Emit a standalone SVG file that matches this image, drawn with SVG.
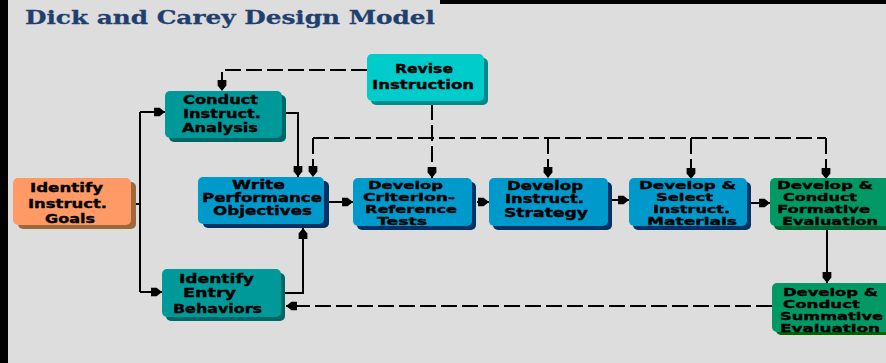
<svg xmlns="http://www.w3.org/2000/svg" width="886" height="363" viewBox="0 0 886 363">
<defs>
<style>
.t{font-family:"DejaVu Sans","Verdana",sans-serif;font-weight:bold;font-size:12px;fill:#000;stroke:#000;stroke-width:0.35}
.t3{font-size:11.5px}
.t4{font-size:10.5px}
.title{font-family:"DejaVu Serif","Liberation Serif",serif;font-weight:bold;font-size:19px;fill:#1f3f6f;stroke:#1f3f6f;stroke-width:0.3}
.c{fill:none;stroke:#000;stroke-width:2}
.d{fill:none;stroke:#000;stroke-width:2;stroke-dasharray:16 5}
.teal{fill:#009999}.tealS{fill:#006666}
.cyan{fill:#00cccc}.cyanS{fill:#008b8b}
.org{fill:#ff9966}.orgS{fill:#9c6a3a}
.blue{fill:#0099cc}.blueS{fill:#003366}
.grn{fill:#009966}.grnS{fill:#006633}
</style>
<marker id="ah" markerUnits="userSpaceOnUse" markerWidth="12" markerHeight="12" viewBox="0 -5 11 10" refX="10" refY="0" orient="auto">
<path d="M0,-4 L5,-4 L10,0 L5,4 L0,4 Z" fill="#000"/>
</marker>
</defs>
<rect x="0" y="0" width="886" height="363" fill="#dddddd"/>
<rect x="0" y="0" width="8" height="363" fill="#000"/>
<rect x="440" y="0" width="446" height="4" fill="#000"/>
<text class="title" x="25" y="24" textLength="410" lengthAdjust="spacingAndGlyphs">Dick and Carey Design Model</text>

<g id="connectors">
<path class="c" d="M135,204 H140"/>
<path class="c" d="M140,112 V292"/>
<path class="c" d="M140,112 H165" marker-end="url(#ah)"/>
<path class="c" d="M140,292 H162" marker-end="url(#ah)"/>
<path class="c" d="M285,113 H298 V177" marker-end="url(#ah)"/>
<path class="c" d="M285,293 H303 V228" marker-end="url(#ah)"/>
<path class="d" d="M367,70 H222 V91" marker-end="url(#ah)"/>
<path class="d" d="M432,104 V178" marker-end="url(#ah)"/>
<path class="d" d="M313,138 H826"/>
<path class="d" d="M313,138 V177" marker-end="url(#ah)"/>
<path class="d" d="M548,138 V178" marker-end="url(#ah)"/>
<path class="d" d="M691,138 V179" marker-end="url(#ah)"/>
<path class="d" d="M826,138 V179" marker-end="url(#ah)"/>
<path class="c" d="M329,202 H353" marker-end="url(#ah)"/>
<path class="c" d="M477,202 H489" marker-end="url(#ah)"/>
<path class="c" d="M612,200 H629" marker-end="url(#ah)"/>
<path class="c" d="M751,203 H770" marker-end="url(#ah)"/>
<path class="c" d="M827,230 V283" marker-end="url(#ah)"/>
<path class="d" d="M772,306 H286" marker-end="url(#ah)"/>
</g>

<g id="revise">
<rect class="cyanS" x="371" y="58" width="117" height="47" rx="5"/>
<rect class="cyan" x="367" y="54" width="117" height="47" rx="5"/>
<text class="t" x="395" y="73" textLength="58" lengthAdjust="spacingAndGlyphs">Revise</text>
<text class="t" x="372" y="89" textLength="102" lengthAdjust="spacingAndGlyphs">Instruction</text>
</g>

<g id="conduct">
<rect class="tealS" x="169" y="95" width="117" height="47" rx="5"/>
<rect class="teal" x="165" y="91" width="117" height="47" rx="5"/>
<text class="t" x="183" y="104" textLength="75" lengthAdjust="spacingAndGlyphs">Conduct</text>
<text class="t" x="183" y="118" textLength="78" lengthAdjust="spacingAndGlyphs">Instruct.</text>
<text class="t" x="182" y="132" textLength="76" lengthAdjust="spacingAndGlyphs">Analysis</text>
</g>

<g id="goals">
<rect class="orgS" x="18" y="182" width="118" height="47" rx="5"/>
<rect class="org" x="13" y="178" width="118" height="47" rx="5"/>
<text class="t" x="30" y="192" textLength="73" lengthAdjust="spacingAndGlyphs">Identify</text>
<text class="t" x="28" y="208" textLength="79" lengthAdjust="spacingAndGlyphs">Instruct.</text>
<text class="t" x="45" y="223" textLength="50" lengthAdjust="spacingAndGlyphs">Goals</text>
</g>

<g id="write">
<rect class="blueS" x="203" y="181" width="126" height="47" rx="5"/>
<rect class="blue" x="198" y="177" width="126" height="47" rx="5"/>
<text class="t t3" x="232" y="188.5" textLength="53" lengthAdjust="spacingAndGlyphs">Write</text>
<text class="t t3" x="202" y="201.9" textLength="120" lengthAdjust="spacingAndGlyphs">Performance</text>
<text class="t t3" x="213" y="215.3" textLength="99" lengthAdjust="spacingAndGlyphs">Objectives</text>
</g>

<g id="criterion">
<rect class="blueS" x="357" y="182" width="119" height="48" rx="5"/>
<rect class="blue" x="353" y="178" width="119" height="48" rx="5"/>
<text class="t t4" x="368" y="188.5" textLength="75" lengthAdjust="spacingAndGlyphs">Develop</text>
<text class="t t4" x="363" y="200.8" textLength="92" lengthAdjust="spacingAndGlyphs">Criterion-</text>
<text class="t t4" x="365" y="213.1" textLength="92" lengthAdjust="spacingAndGlyphs">Reference</text>
<text class="t t4" x="377" y="225.4" textLength="50" lengthAdjust="spacingAndGlyphs">Tests</text>
</g>

<g id="strategy">
<rect class="blueS" x="493" y="182" width="119" height="48" rx="5"/>
<rect class="blue" x="489" y="178" width="119" height="48" rx="5"/>
<text class="t t3" x="507" y="190" textLength="76" lengthAdjust="spacingAndGlyphs">Develop</text>
<text class="t t3" x="505" y="203.4" textLength="79" lengthAdjust="spacingAndGlyphs">Instruct.</text>
<text class="t t3" x="504" y="216.8" textLength="84" lengthAdjust="spacingAndGlyphs">Strategy</text>
</g>

<g id="materials">
<rect class="blueS" x="633" y="182" width="118" height="48" rx="5"/>
<rect class="blue" x="629" y="178" width="118" height="48" rx="5"/>
<text class="t t4" x="639" y="188.5" textLength="97" lengthAdjust="spacingAndGlyphs">Develop &amp;</text>
<text class="t t4" x="656" y="200.8" textLength="57" lengthAdjust="spacingAndGlyphs">Select</text>
<text class="t t4" x="653" y="213.1" textLength="77" lengthAdjust="spacingAndGlyphs">Instruct.</text>
<text class="t t4" x="647" y="225.4" textLength="90" lengthAdjust="spacingAndGlyphs">Materials</text>
</g>

<g id="formative">
<rect class="grnS" x="774" y="182" width="120" height="48" rx="5"/>
<rect class="grn" x="770" y="178" width="120" height="48" rx="5"/>
<text class="t t4" x="777" y="188.5" textLength="96" lengthAdjust="spacingAndGlyphs">Develop &amp;</text>
<text class="t t4" x="783" y="200.8" textLength="74" lengthAdjust="spacingAndGlyphs">Conduct</text>
<text class="t t4" x="777" y="213.1" textLength="93" lengthAdjust="spacingAndGlyphs">Formative</text>
<text class="t t4" x="782" y="225.4" textLength="96" lengthAdjust="spacingAndGlyphs">Evaluation</text>
</g>

<g id="summative">
<rect fill="#006600" x="776" y="287" width="118" height="48" rx="5"/>
<rect class="grn" x="772" y="283" width="118" height="49" rx="5"/>
<text class="t t4" x="783" y="295.5" textLength="95" lengthAdjust="spacingAndGlyphs">Develop &amp;</text>
<text class="t t4" x="783" y="307.8" textLength="77" lengthAdjust="spacingAndGlyphs">Conduct</text>
<text class="t t4" x="780" y="320.1" textLength="103" lengthAdjust="spacingAndGlyphs">Summative</text>
<text class="t t4" x="780" y="332.4" textLength="100" lengthAdjust="spacingAndGlyphs">Evaluation</text>
</g>

<g id="entry">
<rect class="tealS" x="166" y="273" width="119" height="48" rx="5"/>
<rect class="teal" x="162" y="269" width="119" height="48" rx="5"/>
<text class="t" x="179" y="283" textLength="75" lengthAdjust="spacingAndGlyphs">Identify</text>
<text class="t" x="183" y="297" textLength="53" lengthAdjust="spacingAndGlyphs">Entry</text>
<text class="t" x="173" y="313" textLength="89" lengthAdjust="spacingAndGlyphs">Behaviors</text>
</g>
</svg>
